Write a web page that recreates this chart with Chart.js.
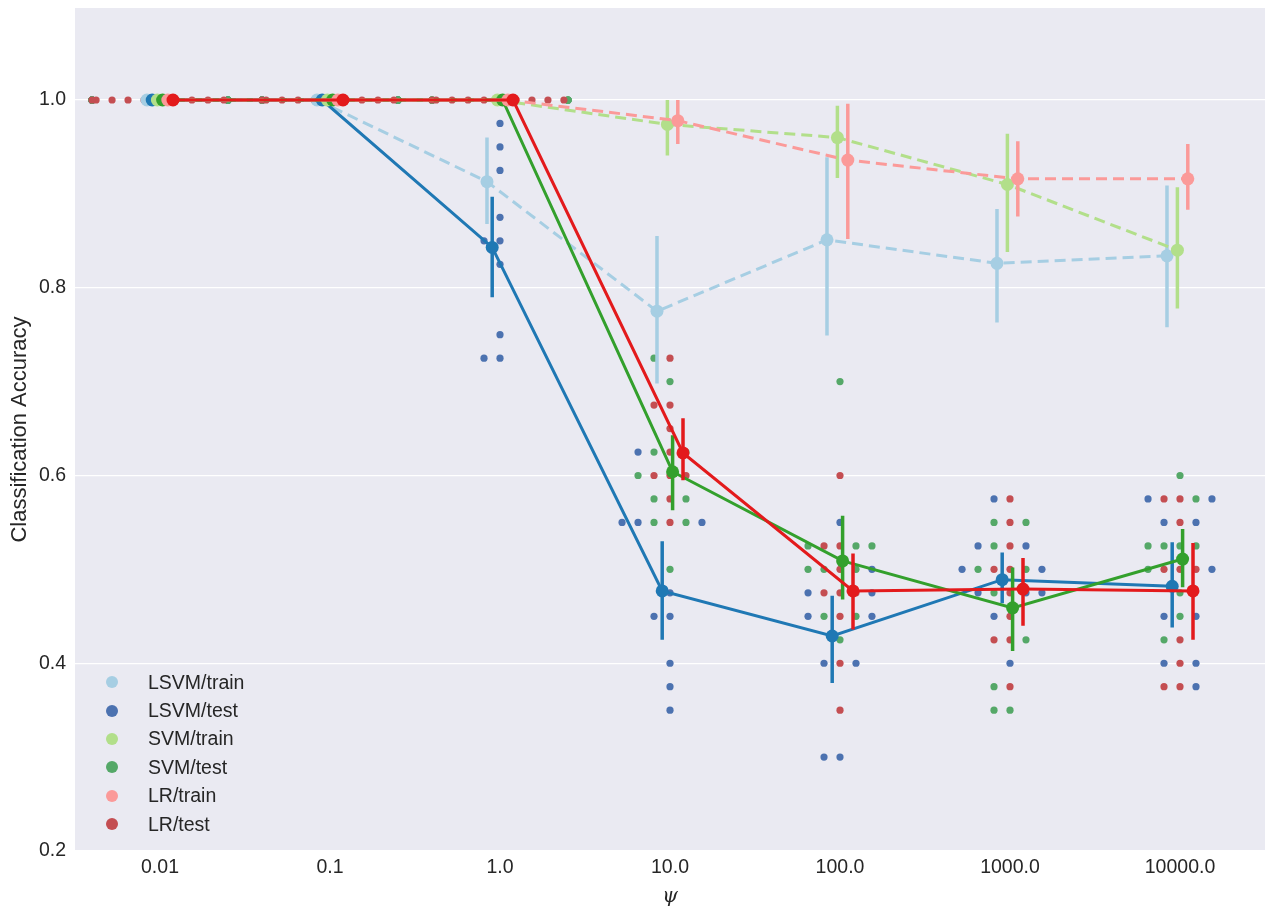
<!DOCTYPE html>
<html>
<head>
<meta charset="utf-8">
<script src="https://cdn.jsdelivr.net/npm/chart.js@4.4.1/dist/chart.umd.min.js"></script>
<style>
  body { margin: 0; background: #fff; }
  #wrap { position: relative; width: 1273px; height: 908px; }
  #legend { position: absolute; left: 100px; top: 668px; font: 19.5px "Liberation Sans", Arial, sans-serif; color: #262626; }
  .item { height: 28.4px; display: flex; align-items: center; }
  .dot { width: 12px; height: 12px; border-radius: 50%; margin-left: 6px; margin-right: 30px; }
</style>
</head>
<body>
<div id="wrap">
  <canvas id="chart"></canvas>
  <div id="legend"></div>
</div>
<script>
// categories on the x axis
const psiLabels = ["0.01", "0.1", "1.0", "10.0", "100.0", "1000.0", "10000.0"];

// mean accuracy per series
const lsvmTrain = [1.0, 1.0, 0.913, 0.775, 0.851, 0.826, 0.834];
const lsvmTest  = [1.0, 1.0, 0.843, 0.477, 0.429, 0.489, 0.482];
const svmTrain  = [1.0, 1.0, 1.0, 0.974, 0.960, 0.910, 0.840];
const svmTest   = [1.0, 1.0, 1.0, 0.604, 0.509, 0.459, 0.511];
const lrTrain   = [1.0, 1.0, 1.0, 0.978, 0.936, 0.916, 0.916];
const lrTest    = [1.0, 1.0, 1.0, 0.624, 0.477, 0.479, 0.477];

// confidence intervals [low, high], null = none
const lsvmTrainCI = [null, null, [0.868, 0.960], [0.698, 0.855], [0.749, 0.939], [0.763, 0.884], [0.758, 0.909]];
const lsvmTestCI  = [null, null, [0.790, 0.897], [0.425, 0.530], [0.379, 0.472], [0.464, 0.518], [0.438, 0.529]];
const svmTrainCI  = [null, null, null, [0.941, 1.0], [0.917, 0.994], [0.838, 0.964], [0.778, 0.907]];
const svmTestCI   = [null, null, null, [0.563, 0.643], [0.468, 0.557], [0.413, 0.502], [0.481, 0.543]];
const lrTrainCI   = [null, null, null, [0.953, 1.0], [0.852, 0.996], [0.876, 0.956], [0.883, 0.953]];
const lrTestCI    = [null, null, null, [0.595, 0.661], [0.436, 0.517], [0.440, 0.512], [0.425, 0.528]];

// individual test fold scores (10 folds) per category
const lsvmFolds = [
  [1, 1, 1, 1, 1, 1, 1, 1, 1, 1],
  [1, 1, 1, 1, 1, 1, 1, 1, 1, 1],
  [0.975, 0.95, 0.925, 0.875, 0.85, 0.85, 0.825, 0.75, 0.725, 0.725],
  [0.625, 0.55, 0.55, 0.55, 0.475, 0.45, 0.45, 0.4, 0.375, 0.35],
  [0.55, 0.5, 0.475, 0.475, 0.45, 0.45, 0.4, 0.4, 0.3, 0.3],
  [0.575, 0.525, 0.525, 0.5, 0.5, 0.475, 0.475, 0.475, 0.45, 0.4],
  [0.575, 0.575, 0.55, 0.55, 0.5, 0.45, 0.45, 0.4, 0.4, 0.375]
];
const svmFolds = [
  [1, 1, 1, 1, 1, 1, 1, 1, 1, 1],
  [1, 1, 1, 1, 1, 1, 1, 1, 1, 1],
  [1, 1, 1, 1, 1, 1, 1, 1, 1, 1],
  [0.725, 0.7, 0.625, 0.625, 0.6, 0.575, 0.575, 0.55, 0.55, 0.5],
  [0.7, 0.525, 0.525, 0.525, 0.5, 0.5, 0.5, 0.45, 0.45, 0.425],
  [0.55, 0.55, 0.525, 0.5, 0.5, 0.475, 0.425, 0.375, 0.35, 0.35],
  [0.6, 0.575, 0.525, 0.525, 0.525, 0.525, 0.5, 0.475, 0.45, 0.425]
];
const lrFolds = [
  [1, 1, 1, 1, 1, 1, 1, 1, 1, 1],
  [1, 1, 1, 1, 1, 1, 1, 1, 1, 1],
  [1, 1, 1, 1, 1, 1, 1, 1, 1, 1],
  [0.725, 0.675, 0.675, 0.65, 0.625, 0.6, 0.6, 0.6, 0.575, 0.55],
  [0.6, 0.525, 0.525, 0.5, 0.475, 0.475, 0.475, 0.45, 0.4, 0.35],
  [0.575, 0.55, 0.525, 0.5, 0.5, 0.475, 0.45, 0.425, 0.425, 0.375],
  [0.575, 0.575, 0.55, 0.5, 0.5, 0.5, 0.425, 0.4, 0.375, 0.375]
];

const seriesNames = ["LSVM/train", "LSVM/test", "SVM/train", "SVM/test", "LR/train", "LR/test"];
const lineColors = ["#a6cee3", "#1f78b4", "#b2df8a", "#33a02c", "#fb9a99", "#e31a1c"];
const legendColors = ["#a6cee3", "#4c72b0", "#b2df8a", "#55a868", "#fb9a99", "#c44e52"];
const foldColors = { lsvm: "#4c72b0", svm: "#55a868", lr: "#c44e52" };

const means = [lsvmTrain, lsvmTest, svmTrain, svmTest, lrTrain, lrTest];
const cis = [lsvmTrainCI, lsvmTestCI, svmTrainCI, svmTestCI, lrTrainCI, lrTestCI];

const dodgeStep = 0.0306;
const swarmStep = 0.094;
const swarmHalf = 0.4;

// simple beeswarm: same values spread sideways, clamped to category width
function swarm(groups) {
  const out = groups.map(() => []);
  for (let c = 0; c < psiLabels.length; c++) {
    const used = {};
    groups.forEach((folds, m) => {
      folds[c].forEach(v => {
        const k = v.toFixed(3);
        const n = used[k] || 0;
        used[k] = n + 1;
        const slot = n === 0 ? 0 : (n % 2 ? -(n + 1) / 2 : n / 2);
        const off = Math.max(-swarmHalf, Math.min(swarmHalf, slot * swarmStep));
        out[m].push({ x: c + off, y: v });
      });
    });
  }
  return out;
}

const [lrPts, svmPts, lsvmPts] = swarm([lrFolds, svmFolds, lsvmFolds]);

const datasets = [];

// series lines + error bars
means.forEach((vals, s) => {
  const off = (s - 2.5) * dodgeStep;
  const isTrain = s % 2 === 0;
  datasets.push({
    type: "line",
    data: vals.map((v, i) => ({ x: i + off, y: v })),
    borderColor: lineColors[s],
    backgroundColor: lineColors[s],
    borderWidth: 3,
    borderDash: isTrain ? [11, 6] : [],
    pointRadius: 6.5,
    pointBorderWidth: 0,
    pointBackgroundColor: lineColors[s],
    tension: 0,
    order: 10 + (5 - s) * 2
  });
  const bars = [];
  cis[s].forEach((ci, i) => {
    if (!ci) return;
    bars.push({ x: i + off, y: ci[0] }, { x: i + off, y: ci[1] }, { x: i + off, y: null });
  });
  datasets.push({
    type: "line",
    data: bars,
    borderColor: lineColors[s],
    borderWidth: 3.5,
    pointRadius: 0,
    spanGaps: false,
    order: 11 + (5 - s) * 2
  });
});

// fold dots under everything
[[lsvmPts, foldColors.lsvm, 52], [svmPts, foldColors.svm, 51], [lrPts, foldColors.lr, 50]].forEach(([pts, col, ord]) => {
  datasets.push({
    type: "line",
    data: pts,
    showLine: false,
    pointRadius: 3.6,
    pointBorderWidth: 0,
    pointBackgroundColor: col,
    order: ord
  });
});

const bgPlugin = {
  id: "bg",
  beforeDraw(chart) {
    const { ctx, chartArea: a } = chart;
    ctx.save();
    ctx.fillStyle = "#eaeaf2";
    ctx.fillRect(a.left, a.top, a.right - a.left, a.bottom - a.top);
    ctx.restore();
  }
};

const tickFont = { family: "'Liberation Sans', Arial, sans-serif", size: 19.5 };

new Chart(document.getElementById("chart"), {
  type: "line",
  data: { datasets },
  plugins: [bgPlugin],
  options: {
    responsive: true,
    maintainAspectRatio: false,
    animation: false,
    events: [],
    layout: { padding: { left: 0, right: 8, top: 8, bottom: 0 } },
    plugins: { legend: { display: false }, tooltip: { enabled: false } },
    scales: {
      x: {
        type: "linear",
        min: -0.5,
        max: 6.5,
        afterBuildTicks: s => { s.ticks = psiLabels.map((_, i) => ({ value: i })); },
        afterFit: s => { s.height = 57; s.paddingLeft = 0; s.paddingRight = 0; },
        ticks: { callback: v => psiLabels[v], font: tickFont, color: "#262626", padding: 5, maxRotation: 0 },
        grid: { display: false, drawTicks: false },
        border: { display: false },
        title: {
          display: true,
          text: "ψ",
          font: { family: "'DejaVu Serif', serif", size: 20, style: "italic", lineHeight: 1.1 },
          color: "#262626",
          padding: { top: 0, bottom: 0 }
        }
      },
      y: {
        min: 0.2,
        max: 1.098,
        afterBuildTicks: s => { s.ticks = [0.2, 0.4, 0.6, 0.8, 1.0].map(v => ({ value: v })); },
        afterFit: s => { s.width = 75; s.paddingTop = 0; s.paddingBottom = 0; },
        ticks: { callback: v => v.toFixed(1), font: tickFont, color: "#262626", padding: 9 },
        grid: { color: "#ffffff", lineWidth: 1.3, drawTicks: false },
        border: { display: false },
        title: {
          display: true,
          text: "Classification Accuracy",
          font: { family: "'Liberation Sans', Arial, sans-serif", size: 22 },
          color: "#262626",
          padding: { top: 7, bottom: 0 }
        }
      }
    }
  }
});

// legend
const legend = document.getElementById("legend");
seriesNames.forEach((name, i) => {
  const item = document.createElement("div");
  item.className = "item";
  item.innerHTML = `<span class="dot" style="background:${legendColors[i]}"></span><span>${name}</span>`;
  legend.appendChild(item);
});
</script>
</body>
</html>
